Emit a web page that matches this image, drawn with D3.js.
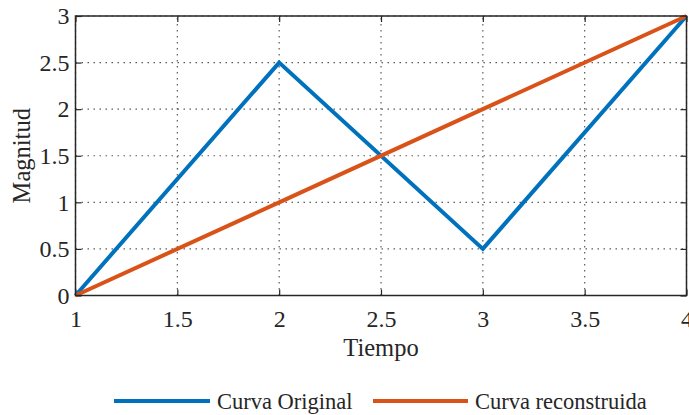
<!DOCTYPE html>
<html>
<head>
<meta charset="utf-8">
<script src="https://cdn.jsdelivr.net/npm/d3@7"></script>
<style>
  html, body { margin: 0; padding: 0; background: #fff; }
  svg { display: block; }
  text { font-family: "Liberation Serif", "Times New Roman", serif; fill: #262626; }
</style>
</head>
<body>
<svg id="chart" width="689" height="415"></svg>
<script>
// Series data
const tiempo = [1, 2, 3, 4];
const curvaOriginal = [0, 2.5, 0.5, 3];
const curvaReconstruida = [0, 1, 2, 3];

// Axis ticks
const xTicks = [1, 1.5, 2, 2.5, 3, 3.5, 4];
const yTicks = [0, 0.5, 1, 1.5, 2, 2.5, 3];

const seriesNames = ["Curva Original", "Curva reconstruida"];
const seriesColors = ["#0072BD", "#D95319"];

const W = 689, H = 415;
const margin = { left: 75.5, right: 2.5, top: 16, bottom: 119.5 };
const svg = d3.select("#chart");

const x = d3.scaleLinear().domain([1, 4]).range([margin.left, W - margin.right]);
const y = d3.scaleLinear().domain([0, 3]).range([H - margin.bottom, margin.top]);

const axisColor = "#262626";
const serif = '"Liberation Serif", "Times New Roman", serif';
const tickLen = 6;

// Dotted grid
const grid = svg.append("g");
grid.selectAll("line.gx").data(xTicks).join("line")
  .attr("x1", d => x(d)).attr("x2", d => x(d))
  .attr("y1", y(0)).attr("y2", y(3))
  .attr("stroke", "#262626").attr("stroke-width", 1.2)
  .attr("stroke-dasharray", "1.5,4.5").attr("opacity", 0.75);
grid.selectAll("line.gy").data(yTicks).join("line")
  .attr("x1", x(1)).attr("x2", x(4))
  .attr("y1", d => y(d)).attr("y2", d => y(d))
  .attr("stroke", "#262626").attr("stroke-width", 1.2)
  .attr("stroke-dasharray", "1.5,4.5").attr("opacity", 0.75);

// Axes: labelled bottom/left, inward ticks on every side
const fontSize = 24;
const xAxis = svg.append("g").attr("transform", `translate(0,${y(0)})`)
  .call(d3.axisBottom(x).tickValues(xTicks).tickFormat(d3.format("")).tickSizeInner(-tickLen).tickSizeOuter(0).tickPadding(14));
const yAxis = svg.append("g").attr("transform", `translate(${x(1)},0)`)
  .call(d3.axisLeft(y).tickValues(yTicks).tickFormat(d3.format("")).tickSizeInner(-tickLen).tickSizeOuter(0).tickPadding(6));
const xTop = svg.append("g").attr("transform", `translate(0,${y(3)})`)
  .call(d3.axisTop(x).tickValues(xTicks).tickFormat("").tickSizeInner(-tickLen).tickSizeOuter(0));
const yRight = svg.append("g").attr("transform", `translate(${x(4)},0)`)
  .call(d3.axisRight(y).tickValues(yTicks).tickFormat("").tickSizeInner(-tickLen).tickSizeOuter(0));

[xAxis, yAxis, xTop, yRight].forEach(g => {
  g.attr("font-family", null).attr("font-size", null);
  g.select(".domain").remove();
  g.selectAll(".tick line").attr("stroke", axisColor).attr("stroke-width", 1.2);
  g.selectAll("text")
    .style("font-family", serif)
    .style("font-size", fontSize + "px")
    .style("fill", axisColor);
});

// Lines
const line = d3.line().x((d, i) => x(tiempo[i])).y(d => y(d));
[curvaOriginal, curvaReconstruida].forEach((s, k) => {
  svg.append("path").datum(s)
    .attr("d", line)
    .attr("fill", "none")
    .attr("stroke", seriesColors[k])
    .attr("stroke-width", 4)
    .attr("stroke-linejoin", "miter")
    .attr("stroke-linecap", "butt");
});

// Box
svg.append("rect")
  .attr("x", x(1)).attr("y", y(3))
  .attr("width", x(4) - x(1)).attr("height", y(0) - y(3))
  .attr("fill", "none").attr("stroke", axisColor).attr("stroke-width", 1.5);

// Axis titles
svg.append("text")
  .attr("x", (x(1) + x(4)) / 2).attr("y", 356)
  .attr("text-anchor", "middle")
  .style("font-size", "24.5px")
  .text("Tiempo");
svg.append("text")
  .attr("transform", `translate(30,${(y(0) + y(3)) / 2}) rotate(-90)`)
  .attr("text-anchor", "middle")
  .style("font-size", "24.5px")
  .text("Magnitud");

// Legend
const legendY = 401;
const legendItems = [{ x0: 114, x1: 210 }, { x0: 373, x1: 468 }];
legendItems.forEach((it, k) => {
  svg.append("line")
    .attr("x1", it.x0).attr("x2", it.x1)
    .attr("y1", legendY).attr("y2", legendY)
    .attr("stroke", seriesColors[k]).attr("stroke-width", 4);
  svg.append("text")
    .attr("x", it.x1 + 7).attr("y", legendY + 7.5)
    .style("font-size", "22.5px")
    .text(seriesNames[k]);
});
</script>
</body>
</html>
